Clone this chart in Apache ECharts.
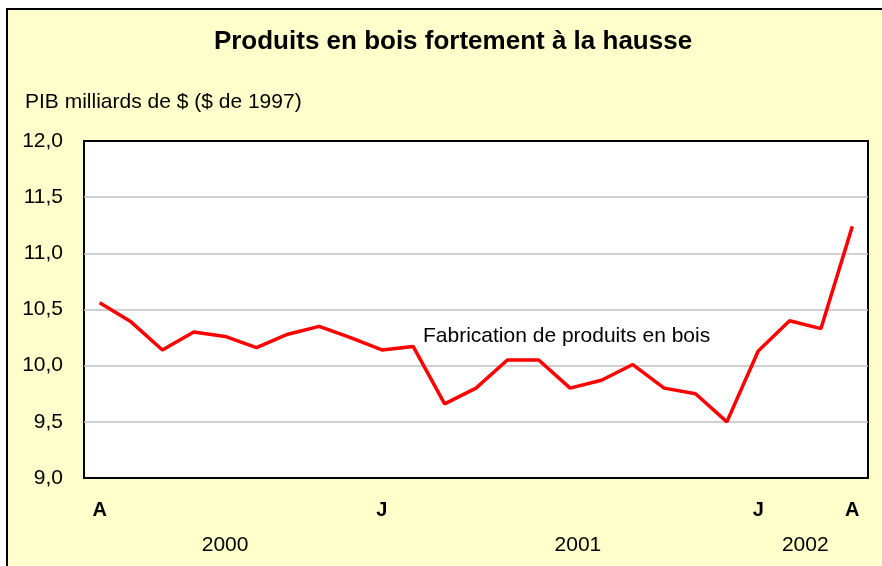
<!DOCTYPE html>
<html>
<head>
<meta charset="utf-8">
<script src="https://cdn.jsdelivr.net/npm/echarts@6/dist/echarts.min.js"></script>
<style>
  html, body { margin: 0; padding: 0; background: #fff; }
  #main { width: 882px; height: 566px; }
</style>
</head>
<body>
<div id="main"></div>
<script>
// avril 2000 -> avril 2002, un point par mois
var mois = ['A','M','J','J','A','S','O','N','D',
            'J','F','M','A','M','J','J','A','S','O','N','D',
            'J','F','M','A'];
var etiquettesMois = {0: 'A', 9: 'J', 21: 'J', 24: 'A'};
var produitsBois = [10.56, 10.39, 10.14, 10.30, 10.26, 10.16, 10.28, 10.35, 10.25,
                    10.14, 10.17, 9.66, 9.80, 10.05, 10.05, 9.80, 9.87, 10.01, 9.80,
                    9.75, 9.50, 10.13, 10.40, 10.33, 11.24];
var annees = {'4.5': '2000', '15.75': '2001', '23': '2002'};

var police = 'Liberation Sans, Arial, sans-serif';

var myChart = echarts.init(document.getElementById('main'));
var option = {
  backgroundColor: '#fff',
  animation: false,
  title: {
    text: 'Produits en bois fortement à la hausse',
    left: 448, top: 24, textAlign: 'center',
    textStyle: { fontFamily: police, fontSize: 26, fontWeight: 'bold', color: '#000' }
  },
  graphic: [
    { type: 'rect', z: -10, shape: { x: 7, y: 9, width: 890, height: 570 },
      style: { fill: '#FFFFCC', stroke: '#000', lineWidth: 2 } },
    { type: 'text', left: 25, top: 92,
      style: { text: 'PIB milliards de $ ($ de 1997)', font: '21px ' + police, fill: '#000' } },
    { type: 'text', left: 423, top: 326, z: 10,
      style: { text: 'Fabrication de produits en bois', font: '21px ' + police, fill: '#000' } }
  ],
  grid: {
    left: 84, top: 141, width: 784, height: 337,
    show: true, backgroundColor: '#fff', borderColor: '#000', borderWidth: 2
  },
  xAxis: [{
    type: 'category',
    data: mois,
    boundaryGap: true,
    axisLine: { lineStyle: { color: '#000', width: 2 } },
    axisTick: { inside: true, length: 6, lineStyle: { color: '#000', width: 1.5 } },
    axisLabel: {
      interval: 0, margin: 22,
      fontFamily: police, fontSize: 20, fontWeight: 'bold', color: '#000',
      formatter: function (v, i) { return etiquettesMois[i] || ''; }
    }
  }, {
    type: 'value',
    position: 'bottom',
    min: 0, max: 25, interval: 0.25,
    axisLine: { show: false },
    axisTick: { show: false },
    splitLine: { show: false },
    axisLabel: {
      margin: 57, fontFamily: police, fontSize: 21, color: '#000',
      showMinLabel: true, showMaxLabel: true,
      formatter: function (v) { return annees[String(v)] || ''; }
    }
  }],
  yAxis: {
    type: 'value',
    min: 9, max: 12, interval: 0.5,
    axisLine: { show: false },
    axisTick: { show: false },
    splitLine: { showMinLine: false, showMaxLine: false, lineStyle: { color: '#C0C0C0', width: 1.5 } },
    axisLabel: {
      margin: 21, fontFamily: police, fontSize: 21, color: '#000',
      formatter: function (v) { return v.toFixed(1).replace('.', ','); }
    }
  },
  series: [{
    name: 'Fabrication de produits en bois',
    type: 'line',
    xAxisIndex: 0,
    data: produitsBois,
    symbol: 'none',
    lineStyle: { color: '#FF0000', width: 3.5 },
    itemStyle: { color: '#FF0000' }
  }]
};
myChart.setOption(option);
</script>
</body>
</html>
